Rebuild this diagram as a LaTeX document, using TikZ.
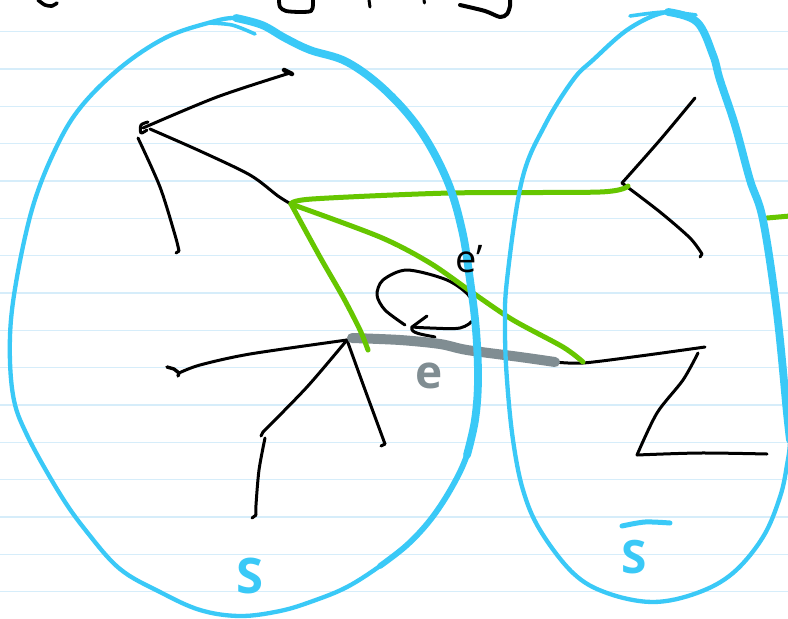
\documentclass[tikz,border=0pt]{standalone}
\usepackage{fontspec}
\newfontfamily\hand{Open Sans}
\definecolor{cyanS}{RGB}{58,201,247}
\definecolor{greenE}{RGB}{102,198,0}
\definecolor{grayE}{RGB}{128,141,146}
\definecolor{ruleC}{RGB}{214,237,250}
\begin{document}
\begin{tikzpicture}[x=1pt,y=-1pt, line cap=round, line join=round,
  ink/.style={draw=black, line width=3pt},
  gedge/.style={draw=greenE, line width=5pt},
  blob/.style={draw=cyanS, line width=4.3pt},
  blobmid/.style={draw=cyanS, line width=5.8pt},
  blobthick/.style={draw=cyanS, line width=7.8pt},
  lbl/.style={inner sep=0pt, anchor=base west}]
\useasboundingbox (0,0) rectangle (788,619);
\fill[white] (0,0) rectangle (788,619);
\clip (0,0) rectangle (788,619);
\foreach \k in {0,...,15} \draw[ruleC, line width=1.4pt] (0,{31.5+37.35*\k}) -- (788,{31.5+37.35*\k});

% named points
\coordinate (v1) at (143,128);
\coordinate (a1) at (290,73);
\coordinate (g) at (291,204);
\coordinate (b1s) at (138,138);
\coordinate (b1e) at (179,251);
\coordinate (v2) at (347,340);
\coordinate (l2) at (179,373);
\coordinate (m2) at (263,432);
\coordinate (m2b) at (265,438);
\coordinate (n2) at (256,515);
\coordinate (r2) at (385,444);
\coordinate (v3) at (622,183);
\coordinate (t3) at (695,98);
\coordinate (b3) at (702,254);
\coordinate (v3g) at (628,186);
\coordinate (ge1) at (368,350);
\coordinate (ge2) at (583,362);
\coordinate (e1) at (352,338);
\coordinate (e2) at (555,362);
\coordinate (z1) at (705,347);
\coordinate (z2) at (698,353);
\coordinate (z3) at (637,455);
\coordinate (z4) at (767,454);
\coordinate (lp0) at (405,325);
\coordinate (lp1) at (412,327);

% top cut-off handwriting
\draw[ink, line width=3.6pt] plot[smooth] coordinates {(38,0) (45,5) (52,6) (57,3)};
\draw[ink, line width=3.8pt] plot[smooth] coordinates {(279,0) (280,7) (286,11) (300,12) (311,11) (313,5) (313,0)};
\draw[ink] (369,0) -- (370,7);
\draw[ink] (424,0) -- (424.5,3);
\draw[ink, line width=4pt] plot[smooth] coordinates {(460,5) (485,11) (500,17) (507,14) (510,6) (510,0)};

% upper-left tree
\draw[ink] plot[smooth] coordinates {(v1) (217,97) (a1)};
\draw[ink, line width=4.5pt] (284,70) -- (292,74);
\draw[ink] plot[smooth] coordinates {(148,122) (141,125) (141,133) (147,130)};
\draw[ink] plot[smooth] coordinates {(150,129) (200,151) (250,175) (278,196) (g)};
\draw[ink] plot[smooth] coordinates {(b1s) (160,187) (175,235) (b1e)};
\draw[ink] (b1e) -- (176,253);

% lower-left tree
\draw[ink] plot[smooth] coordinates {(v2) (250,354) (200,365) (l2)};
\draw[ink, line width=3.4pt] (167,367) -- (174,369) -- (l2) -- (178,376);
\draw[ink] plot[smooth] coordinates {(v2) (307,387) (m2)};
\draw[ink] (m2) -- (261,436);
\draw[ink] plot[smooth] coordinates {(m2b) (259,470) (256,505) (n2)};
\draw[ink] (n2) -- (252,518);
\draw[ink] plot[smooth] coordinates {(v2) (364,387) (r2)};
\draw[ink] (r2) -- (381,446);

% right trees
\draw[ink] plot[smooth] coordinates {(v3) (660,140) (t3)};
\draw[ink] plot[smooth] coordinates {(v3) (660,212) (690,238) (b3)};
\draw[ink] (b3) -- (700,257);
\draw[ink] plot[smooth] coordinates {(e2) (583,363) (640,356) (z1)};
\draw[ink] plot[smooth] coordinates {(z2) (683,380) (657,413) (z3)};
\draw[ink] plot[smooth] coordinates {(z3) (700,453) (z4)};

% loop arrow
\draw[ink] plot[smooth] coordinates {(lp0) (385,310) (377,295) (383,280) (407,270) (447,280) (470,297) (474,318) (460,328) (430,328) (lp1)};
\draw[ink] (427,316) -- (lp1) .. controls (410,333) and (420,334) .. (435,337);

% gray edge e
\draw[grayE, line width=10pt] plot[smooth] coordinates {(e1) (400,340) (440,344) (467,350) (520,357) (e2)};

% green edges
\draw[gedge] plot[smooth] coordinates {(g) (312,199) (450,193) (600,192) (v3g)};
\draw[gedge] plot[smooth] coordinates {(g) (380,237) (430,263) (473,293) (513,320) (563,347) (ge2)};
\draw[gedge] plot[smooth] coordinates {(g) (320,257) (343,297) (360,330) (ge1)};
\draw[gedge] (767,218) -- (790,216);

% left blob S
\draw[blob] plot[smooth cycle, tension=0.6] coordinates {(236,18) (262,25) (285,38) (310,50) (347,62) (385,90) (420,130) (447,180) (462,230) (470,280) (476,330) (478,380) (475,420) (467,455) (452,487) (431,519) (407,545) (380,566) (347,587) (313,601) (280,611) (240,616) (200,610) (160,592) (120,569) (87,532) (60,494) (27,435) (13,395) (10,336) (17,277) (33,206) (55,150) (80,108) (120,68) (165,38) (208,23)};
\draw[blobmid] plot[smooth, tension=0.6] coordinates {(447,180) (462,230) (470,280) (476,330) (478,380) (475,420) (467,455) (452,487) (431,519) (407,545) (380,566)};
\draw[blobthick] plot[smooth, tension=0.6] coordinates {(236,18) (262,25) (285,38) (310,50) (347,62) (385,90) (420,130) (447,180) (462,230) (470,280) (476,330) (478,380) (475,420) (467,455)};
\draw[blob, line width=3.6pt] plot[smooth] coordinates {(208,23) (232,25) (255,34)};

% right blob S-bar
\draw[blob] plot[smooth cycle, tension=0.6] coordinates {(668,12) (697,22) (713,55) (720,80) (735,125) (750,180) (763,220) (777,313) (787,413) (790,440) (787,465) (780,497) (763,537) (733,573) (697,593) (653,602) (607,593) (573,573) (540,530) (523,490) (513,440) (507,380) (505,330) (507,280) (522,180) (545,125) (573,80) (593,60) (630,28)};
\draw[blobthick] plot[smooth, tension=0.6] coordinates {(668,12) (697,22) (713,55) (720,80) (735,125) (750,180) (763,220) (777,313) (787,413) (790,440)};
\draw[blob, line width=3.6pt] plot[smooth] coordinates {(630,16) (665,12) (696,15)};

% labels
\node[lbl, text=black, font=\hand\fontsize{38}{38}\selectfont] (eprime) at (455,272) {e’};
\node[lbl, text=grayE, font=\hand\bfseries\fontsize{46}{46}\selectfont] (elab) at (415,388) {e};
\node[lbl, text=cyanS, font=\hand\bfseries\fontsize{49}{49}\selectfont] (slab) at (236,593) {S};
\node[lbl, text=cyanS, font=\hand\bfseries\fontsize{46}{46}\selectfont] (sbar) at (621,573) {S};
\draw[blob, line width=5pt] plot[smooth] coordinates {(622,526) (645,522) (670,523)};
\end{tikzpicture}
\end{document}
